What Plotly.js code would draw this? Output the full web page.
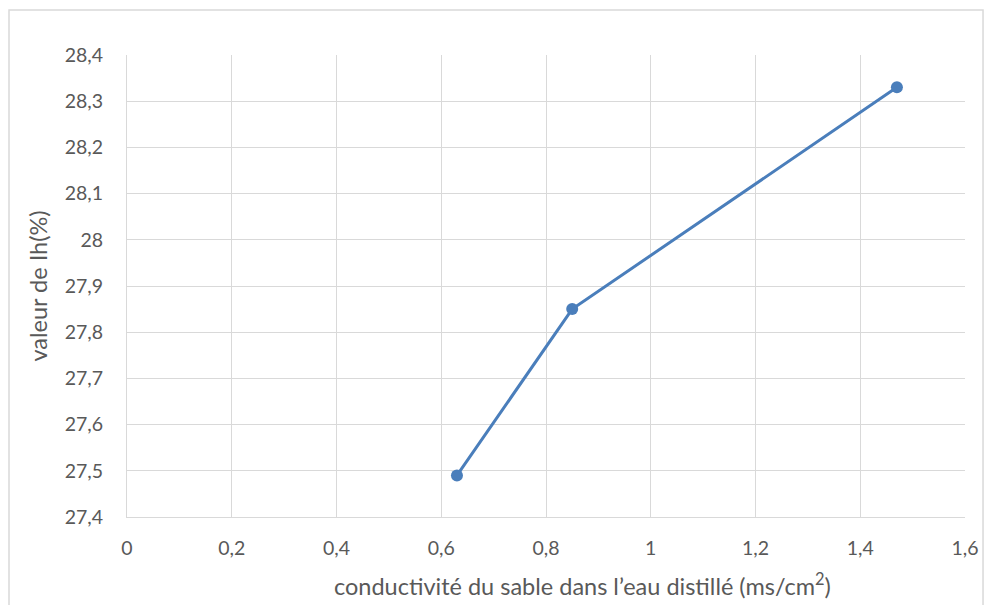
<!DOCTYPE html>
<html>
<head>
<meta charset="utf-8">
<script src="https://cdn.plot.ly/plotly-3.0.1.min.js"></script>
<style>html,body{margin:0;padding:0;background:#fff;}#chart{width:993px;height:605px;}</style>
</head>
<body>
<div id="chart"></div>
<script>
const conductivite = [0.63, 0.85, 1.47];
const valeurIh = [27.49, 27.85, 28.33];
const xTickVals = [0, 0.2, 0.4, 0.6, 0.8, 1, 1.2, 1.4, 1.6];
const xTickText = ["0", "0,2", "0,4", "0,6", "0,8", "1", "1,2", "1,4", "1,6"];
const yTickVals = [27.4, 27.5, 27.6, 27.7, 27.8, 27.9, 28, 28.1, 28.2, 28.3, 28.4];
const yTickText = ["27,4", "27,5", "27,6", "27,7", "27,8", "27,9", "28", "28,1", "28,2", "28,3", "28,4"];
const xTitle = 'conductivité du sable dans l’eau distillé (ms/cm<sup>2</sup>)';
const yTitle = 'valeur de Ih(%)';

const fontFam = "Lato, 'Open Sans', 'Liberation Sans', sans-serif";
const trace = {
  x: conductivite, y: valeurIh, type: 'scatter', mode: 'lines+markers',
  line: {color: '#4a7ebb', width: 3},
  marker: {color: '#4a7ebb', size: 12},
  hoverinfo: 'none'
};
const layout = {
  width: 993, height: 605,
  margin: {l: 127, r: 28, t: 55, b: 88},
  paper_bgcolor: '#fff', plot_bgcolor: '#fff',
  showlegend: false,
  font: {family: fontFam, color: '#595959', size: 19},
  xaxis: {
    range: [0, 1.6], tickvals: xTickVals, ticktext: xTickText,
    showgrid: true, gridcolor: '#d9d9d9', gridwidth: 1,
    zeroline: false, showline: true, linecolor: '#d9d9d9', mirror: false,
    ticks: '', ticklabelstandoff: 14,
    tickfont: {family: fontFam, size: 19.5, color: '#595959'}
  },
  yaxis: {
    range: [27.4, 28.4], tickvals: yTickVals, ticktext: yTickText,
    showgrid: true, gridcolor: '#d9d9d9', gridwidth: 1,
    zeroline: false, showline: true, linecolor: '#d9d9d9',
    ticks: '', ticklabelstandoff: 19,
    tickfont: {family: fontFam, size: 19.5, color: '#595959'},
    title: {text: yTitle, font: {family: fontFam, size: 23.5, color: '#595959'}, standoff: 10}
  },
  annotations: [{
    text: xTitle, xref: 'paper', yref: 'paper', x: 0.543, y: -0.147,
    xanchor: 'center', yanchor: 'middle', showarrow: false,
    font: {family: fontFam, size: 23.5, color: '#595959'}
  }],
  shapes: [{
    type: 'rect', xref: 'paper', yref: 'paper',
    x0: -0.1408, x1: 1.0215, y0: -0.21, y1: 1.0974,
    line: {color: '#d9d9d9', width: 1.5}, layer: 'below'
  }]
};
Plotly.newPlot('chart', [trace], layout, {displayModeBar: false, staticPlot: true});
</script>
</body>
</html>
